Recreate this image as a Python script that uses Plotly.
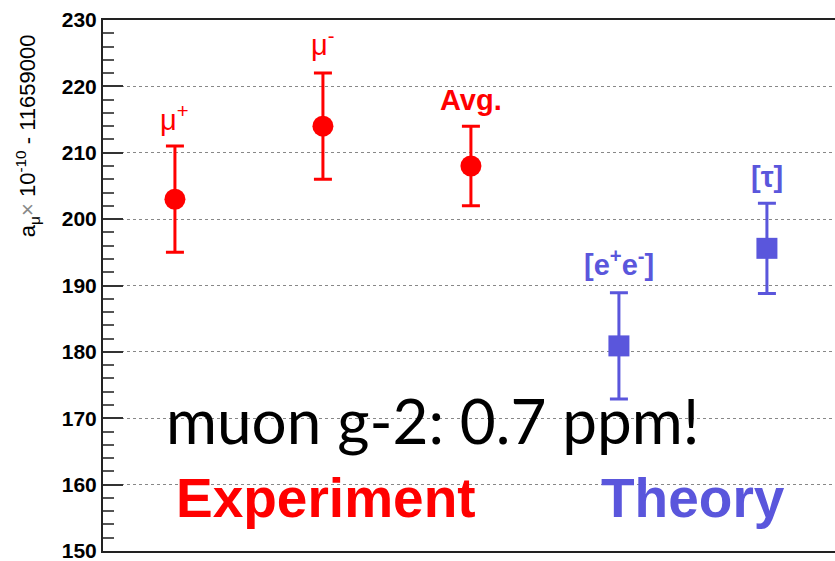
import plotly.graph_objects as go

# ---- data ----
exp_x = [1, 2, 3]
exp_vals = [203.0, 214.0, 208.0]
exp_err = [8.0, 8.0, 6.0]
exp_labels = ["μ<sup>+</sup>", "μ<sup>-</sup>", "<b>Avg.</b>"]

th_x = [4, 5]
th_vals = [180.9, 195.6]
th_err = [8.0, 6.8]
th_labels = ["<b>[e<sup>+</sup>e<sup>-</sup>]</b>", "<b>[τ]</b>"]

y_ticks = [150, 160, 170, 180, 190, 200, 210, 220, 230]

RED = "#ff0000"
BLUE = "#5a56dc"

fig = go.Figure()
fig.add_trace(go.Scatter(
    x=exp_x, y=exp_vals, mode="markers",
    marker=dict(symbol="circle", size=21, color=RED),
    error_y=dict(type="data", array=exp_err, color=RED, thickness=3, width=9),
    showlegend=False))
fig.add_trace(go.Scatter(
    x=th_x, y=th_vals, mode="markers",
    marker=dict(symbol="square", size=21, color=BLUE),
    error_y=dict(type="data", array=th_err, color=BLUE, thickness=3, width=9),
    showlegend=False))

ann = []
shifts_exp = [8, 10, 8]
sizes_exp = [29, 29, 29]
for x, v, e, t, s, fs in zip(exp_x, exp_vals, exp_err, exp_labels, shifts_exp, sizes_exp):
    ann.append(dict(x=x, y=v + e, xref="x", yref="y", text=t, showarrow=False,
                    yanchor="bottom", yshift=s,
                    font=dict(family="Liberation Sans", size=fs, color=RED)))
shifts_th = [10, 8]
for x, v, e, t, s in zip(th_x, th_vals, th_err, th_labels, shifts_th):
    ann.append(dict(x=x, y=v + e, xref="x", yref="y", text=t, showarrow=False,
                    yanchor="bottom", yshift=s,
                    font=dict(family="Liberation Sans", size=29, color=BLUE)))

ann.append(dict(x=2.74, y=169.8, xref="x", yref="y", text="muon g-2: 0.7 ppm!",
                showarrow=False, xanchor="center", yanchor="middle",
                font=dict(family="Lato", size=62, color="black")))
ann.append(dict(x=1.0, y=158.0, xref="x", yref="y", text="<b>Experiment</b>",
                showarrow=False, xanchor="left", yanchor="middle", xshift=-1,
                font=dict(family="Liberation Sans", size=55, color=RED)))
ann.append(dict(x=4.0, y=158.0, xref="x", yref="y", text="<b>Theory</b>",
                showarrow=False, xanchor="left", yanchor="middle", xshift=-20,
                font=dict(family="Liberation Sans", size=55, color=BLUE)))
ann.append(dict(x=0, y=212.5, xref="paper", yref="y",
                text="a<sub>μ</sub><span style='color:#888'>×</span> 10<sup>-10</sup> - 11659000",
                textangle=-90, showarrow=False, xanchor="center", yanchor="middle",
                xshift=-76,
                font=dict(family="Liberation Sans", size=22, color="black")))

fig.update_layout(
    width=835, height=561,
    margin=dict(l=103, r=0, t=20, b=10),
    paper_bgcolor="white", plot_bgcolor="white",
    annotations=ann,
    xaxis=dict(range=[0.514, 5.46], showticklabels=False, ticks="",
               showgrid=False, zeroline=False, showline=True, linecolor="#222",
               linewidth=2, mirror=True),
    yaxis=dict(range=[150, 230], tickvals=y_ticks, ticks="inside", ticklen=20,
               tickwidth=1.5, tickcolor="#333", ticklabeloverflow="allow",
               minor=dict(ticks="inside", ticklen=11, dtick=2, tickcolor="#555",
                          tickwidth=1.5, showgrid=False),
               showgrid=True, gridcolor="#888", griddash="dot", gridwidth=1,
               zeroline=False, showline=True, linecolor="#222", linewidth=2,
               tickfont=dict(family="Liberation Sans", size=21, color="black",
                             weight="bold")),
)

fig.write_html("out.html")
